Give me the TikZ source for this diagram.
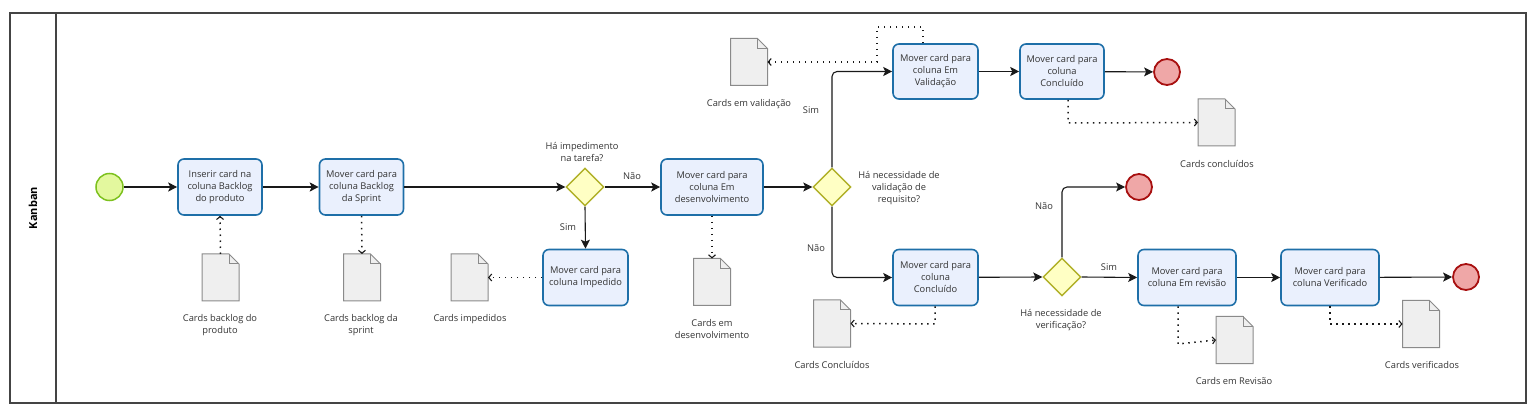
\documentclass[tikz,border=0pt]{standalone}
\usepackage{fontspec}
\setmainfont{Open Sans}
\usetikzlibrary{arrows.meta,shapes.geometric,calc}
\definecolor{txt}{HTML}{333333}
\definecolor{taskfill}{HTML}{EAF0FD}
\definecolor{taskline}{HTML}{1E6FA8}
\definecolor{startfill}{HTML}{E3F89E}
\definecolor{startline}{HTML}{7DC11E}
\definecolor{endfill}{HTML}{EFA7A7}
\definecolor{endline}{HTML}{A81010}
\definecolor{gwfill}{HTML}{FFFFC4}
\definecolor{gwline}{HTML}{B0B028}
\definecolor{docfill}{HTML}{EFEFEF}
\definecolor{docline}{HTML}{8A8A8A}
\definecolor{frame}{HTML}{444444}
\tikzset{
  every node/.style={font=\fontsize{9.3}{12}\selectfont, text=txt},
  task/.style={rectangle, rounded corners=6pt, draw=taskline, fill=taskfill, line width=1.6pt, minimum width=84pt, minimum height=56pt, inner sep=0pt, align=center},
  startev/.style={circle, draw=startline, fill=startfill, line width=1.5pt, minimum size=27pt, inner sep=0pt},
  endev/.style={circle, draw=endline, fill=endfill, line width=1.8pt, minimum size=26pt, inner sep=0pt},
  gateway/.style={diamond, draw=gwline, fill=gwfill, line width=1.4pt, minimum width=38pt, minimum height=38pt, inner sep=0pt, aspect=1},
  docbox/.style={rectangle, draw=none, minimum width=37pt, minimum height=47pt, inner sep=0pt, outer sep=0pt},
  lbl/.style={align=center, inner sep=0pt},
  flow/.style={draw=black!90, line width=1.1pt, -{Stealth[length=9pt,width=9pt,inset=2pt]}, rounded corners=5pt},
  assoc/.style={draw=black!90, line width=1.5pt, dash pattern=on 1.5pt off 4.5pt, -{Straight Barb[length=3pt,width=7pt,line width=1.1pt]}},
  docstroke/.style={draw=docline, fill=docfill, line width=1pt},
}
\newcommand\docshape[1]{%
  \filldraw[docstroke] (#1.north west) -- ([xshift=-10pt]#1.north east) -- ([yshift=-10pt]#1.north east) -- (#1.south east) -- (#1.south west) -- cycle;
  \draw[docstroke, fill=none] ([xshift=-10pt]#1.north east) |- ([yshift=-10pt]#1.north east);}
\begin{document}
\begin{tikzpicture}[x=1pt,y=-1pt]
\useasboundingbox (0,0) rectangle (1538,419);
% frame
\draw[frame, line width=1.5pt] (10,13) rectangle (1526,403);
\draw[frame, line width=1.2pt] (56,13) -- (56,403);
\node[rotate=90, font=\fontsize{11}{13}\selectfont\bfseries, text=black] (lane) at (33,208) {Kanban};

% events
\node[startev] (start) at (109.5,187) {};
\node[endev] (end1) at (1167,72) {};
\node[endev] (end2) at (1139,187) {};
\node[endev] (end3) at (1466,277) {};

% tasks
\node[task] (t1) at (220,187) {Inserir card na\\coluna Backlog\\do produto};
\node[task] (t2) at (361.5,187) {Mover card para\\coluna Backlog\\da Sprint};
\node[task, minimum width=102pt] (t3) at (712,187) {Mover card para\\coluna Em\\desenvolvimento};
\node[task, minimum width=85pt] (timp) at (585.5,277.5) {Mover card para\\coluna Impedido};
\node[task, minimum width=85pt, minimum height=55pt] (tval) at (935.5,71.5) {Mover card para\\coluna Em\\Validação};
\node[task, minimum height=55pt] (tcon1) at (1062,71.5) {Mover card para\\coluna\\Concluído};
\node[task, minimum width=85pt] (tcon2) at (935.5,277.5) {Mover card para\\coluna\\Concluído};
\node[task, minimum width=98pt] (trev) at (1187,277.5) {Mover card para\\coluna Em revisão};
\node[task, minimum width=98pt] (tver) at (1330,277.5) {Mover card para\\coluna Verificado};

% gateways
\node[gateway] (g1) at (585,187) {};
\node[gateway] (g2) at (832,187) {};
\node[gateway] (g3) at (1062,277) {};

% documents
\node[docbox] (d1) at (220.5,277.5) {};
\node[docbox] (d2) at (362,277.5) {};
\node[docbox] (dimp) at (469.5,277.5) {};
\node[docbox] (ddev) at (712,282) {};
\node[docbox] (dval) at (749,62) {};
\node[docbox] (dcon1) at (1216.5,122.5) {};
\node[docbox] (dcon2) at (832,323.5) {};
\node[docbox] (drev) at (1234.5,340) {};
\node[docbox] (dver) at (1421,324) {};
\docshape{d1}\docshape{d2}\docshape{dimp}\docshape{ddev}\docshape{dval}
\docshape{dcon1}\docshape{dcon2}\docshape{drev}\docshape{dver}

% labels
\node[lbl] (ld1) at (220,325) {Cards backlog do\\produto};
\node[lbl] (ld2) at (361,325) {Cards backlog da\\sprint};
\node[lbl] (ldimp) at (470,319) {Cards impedidos};
\node[lbl] (lddev) at (712,329) {Cards em\\desenvolvimento};
\node[lbl] (ldval) at (749,104) {Cards em validação};
\node[lbl] (ldcon1) at (1217,164) {Cards concluídos};
\node[lbl] (ldcon2) at (832,365) {Cards Concluídos};
\node[lbl] (ldrev) at (1234,381) {Cards em Revisão};
\node[lbl] (ldver) at (1422,365) {Cards verificados};
\node[lbl] (lg1) at (582,152.5) {Há impedimento\\na tarefa?};
\node[lbl] (lg2) at (899,188.5) {Há necessidade de\\validação de\\requisito?};
\node[lbl] (lg3) at (1061,320) {Há necessidade de\\verificação?};
\node[lbl] (nao1) at (632,176) {Não};
\node[lbl] (sim1) at (568,227) {Sim};
\node[lbl] (sim2) at (811,110) {Sim};
\node[lbl] (nao2) at (816,248) {Não};
\node[lbl] (nao3) at (1044,206) {Não};
\node[lbl] (sim3) at (1109,267) {Sim};

% sequence flows
\draw[flow] (start) -- (t1);
\draw[flow] (t1) -- (t2);
\draw[flow] (t2) -- (g1.west);
\draw[flow] (g1.east) -- (t3);
\draw[flow] (g1.south) -- (timp.north);
\draw[flow] (t3) -- (g2.west);
\draw[flow] (g2.north) |- (tval.west);
\draw[flow] (g2.south) |- (tcon2.west);
\draw[flow] (tval) -- (tcon1);
\draw[flow] (tcon1) -- (end1);
\draw[flow] (tcon2) -- (g3.west);
\draw[flow] (g3.north) |- (end2.west);
\draw[flow] (g3.east) -- (trev.west);
\draw[flow] (trev) -- (tver);
\draw[flow] (tver) -- (end3);

% associations
\coordinate (a1) at (923,27);
\coordinate (a2) at (877,27);
\coordinate (a3) at (877,62);
\draw[assoc] (d1.north) -- (t1.south);
\draw[assoc] (t2.south) -- (d2.north);
\draw[assoc] (timp.west) -- (dimp.east);
\draw[assoc] (t3.south) -- (ddev.north);
\draw[assoc] (tval.north -| a1) -- (a1) -- (a2) -- (a3) -- (dval.east);
\draw[assoc] (tcon1.south -| 1068,0) -- (1068,123) -- (dcon1.west);
\draw[assoc] (tcon2.south -| 935,0) -- (935,324) -- (dcon2.east);
\draw[assoc] (trev.south -| 1178,0) -- (1178,344) -- (drev.west);
\draw[assoc] (tver.south) -- (1330,324) -- (dver.west);
\end{tikzpicture}
\end{document}
